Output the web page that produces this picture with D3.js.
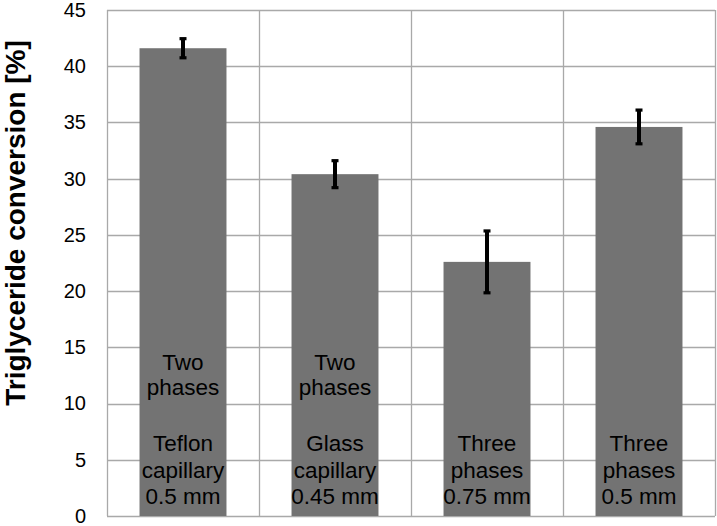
<!DOCTYPE html>
<html>
<head>
<meta charset="utf-8">
<script src="https://cdn.jsdelivr.net/npm/d3@7"></script>
<style>
  body { margin: 0; background: #fff; }
  svg { display: block; font-family: "Liberation Sans", Arial, sans-serif; }
</style>
</head>
<body>
<svg id="chart" width="717" height="526"></svg>
<script>
// data
const categories = ["Teflon 0.5", "Glass 0.45", "Three 0.75", "Three 0.5"];
const conversion = [41.6, 30.4, 22.6, 34.6];
const errorBar = [0.85, 1.2, 2.75, 1.5];
const topLabels = [["Two", "phases"], ["Two", "phases"], [], []];
const bottomLabels = [
  ["Teflon", "capillary", "0.5 mm"],
  ["Glass", "capillary", "0.45 mm"],
  ["Three", "phases", "0.75 mm"],
  ["Three", "phases", "0.5 mm"]
];
const yTicks = [0, 5, 10, 15, 20, 25, 30, 35, 40, 45];

const margin = {top: 10, right: 2, bottom: 10, left: 107};
const width = 717 - margin.left - margin.right;
const height = 526 - margin.top - margin.bottom;

const svg = d3.select("#chart");
const g = svg.append("g")
  .attr("transform", `translate(${margin.left},${margin.top})`);

const x = d3.scaleBand()
  .domain(categories)
  .range([0, width])
  .paddingInner(0.428)
  .paddingOuter(0.214);

const y = d3.scaleLinear().domain([0, 45]).range([height, 0]);

const gridColor = "#a9a9a9";

// horizontal gridlines
g.append("g")
  .selectAll("line")
  .data(yTicks)
  .join("line")
  .attr("x1", 0).attr("x2", width)
  .attr("y1", d => Math.round(y(d)) + 0.5)
  .attr("y2", d => Math.round(y(d)) + 0.5)
  .attr("stroke", gridColor)
  .attr("stroke-width", 1.3);

// vertical gridlines between categories
const step = x.step();
g.append("g")
  .selectAll("line")
  .data(d3.range(categories.length + 1))
  .join("line")
  .attr("x1", i => Math.round(i * step) + 0.5)
  .attr("x2", i => Math.round(i * step) + 0.5)
  .attr("y1", 0).attr("y2", height)
  .attr("stroke", gridColor)
  .attr("stroke-width", 1.3);

// y axis labels
const yaxis = d3.axisLeft(y).tickValues(yTicks).tickSize(0).tickPadding(21);
const g_yaxis = g.append("g").call(yaxis);
g_yaxis.select(".domain").remove();
g_yaxis.selectAll("text")
  .attr("font-size", 20)
  .attr("font-family", "Liberation Sans, Arial, sans-serif")
  .attr("fill", "#000");

// bars
g.selectAll("rect.bar")
  .data(conversion)
  .join("rect")
  .attr("class", "bar")
  .attr("x", (d, i) => x(categories[i]))
  .attr("y", d => y(d))
  .attr("width", x.bandwidth())
  .attr("height", d => y(0) - y(d))
  .attr("fill", "#737373");

// error bars
const eb = g.append("g").attr("stroke", "#000");
conversion.forEach((v, i) => {
  const cx = x(categories[i]) + x.bandwidth() / 2;
  const lo = y(v - errorBar[i]), hi = y(v + errorBar[i]);
  eb.append("line")
    .attr("x1", cx).attr("x2", cx)
    .attr("y1", hi).attr("y2", lo)
    .attr("stroke-width", 4);
  [hi, lo].forEach(yy => {
    eb.append("line")
      .attr("x1", cx - 3.5).attr("x2", cx + 3.5)
      .attr("y1", yy).attr("y2", yy)
      .attr("stroke-width", 3.2);
  });
});

// labels inside bars
const lineGap = 26.5;
categories.forEach((c, i) => {
  const cx = x(c) + x.bandwidth() / 2;
  topLabels[i].forEach((t, k) => {
    g.append("text")
      .attr("x", cx)
      .attr("y", height - 146 + k * 24.5)
      .attr("text-anchor", "middle")
      .attr("font-size", 22.5)
      .text(t);
  });
  bottomLabels[i].forEach((t, k) => {
    g.append("text")
      .attr("x", cx)
      .attr("y", height - 65 + k * lineGap)
      .attr("text-anchor", "middle")
      .attr("font-size", 22.5)
      .text(t);
  });
});

// y axis title
svg.append("text")
  .attr("transform", "translate(25,223) rotate(-90)")
  .attr("text-anchor", "middle")
  .attr("font-weight", "bold")
  .attr("font-size", 28)
  .text("Triglyceride conversion [%]");
</script>
</body>
</html>
